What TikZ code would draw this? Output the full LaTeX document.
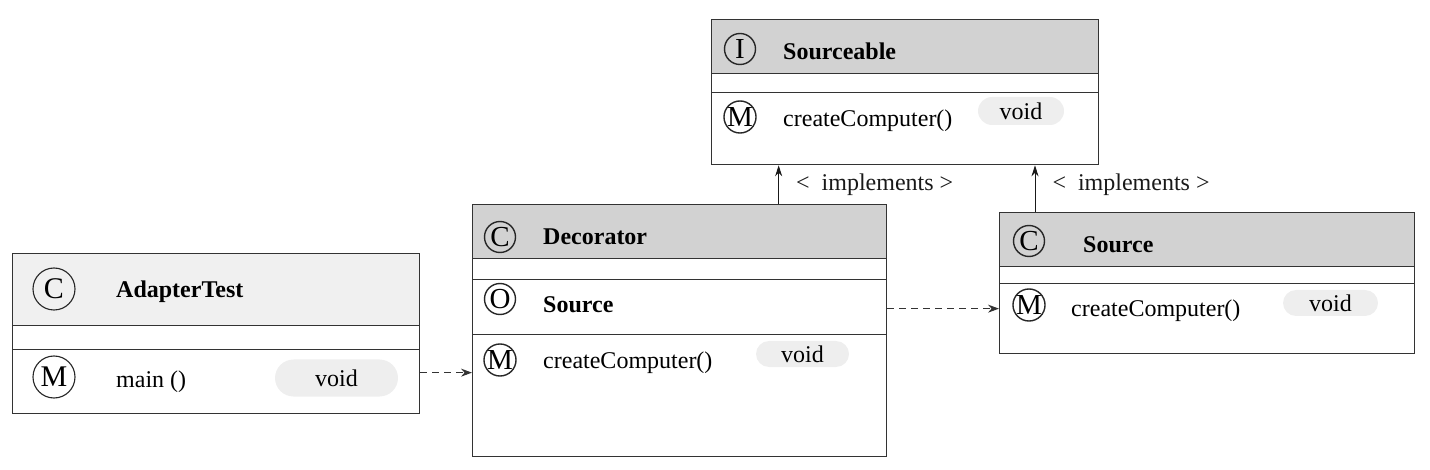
\documentclass[tikz,border=0pt]{standalone}
\usepackage{fontspec}
\setmainfont{Liberation Serif}
\usetikzlibrary{arrows.meta,shapes.misc}

\begin{document}
\begin{tikzpicture}[x=1pt, y=-1pt, font=\fontsize{24}{29}\selectfont,
        box/.style={draw=black!80, line width=1.3pt, rectangle, inner sep=0, anchor=north west},
        head/.style={box, fill=gray!35},
        ico/.style={draw=black!85, line width=1.4pt, circle, inner sep=0, minimum size=31pt, font=\fontsize{29}{29}\selectfont},
        bigico/.style={ico, line width=1.1pt, minimum size=42pt, font=\fontsize{30}{30}\selectfont},
        pill/.style={rounded rectangle, fill=gray!13, inner sep=0},
        txt/.style={anchor=base west, inner sep=0},
        dep/.style={-{Stealth[length=11pt,width=8pt]}, dash pattern=on 7pt off 5pt, line width=1pt, black!80},
        impl/.style={-{Stealth[length=11pt,width=7pt]}, line width=1pt, black!90}]
            \useasboundingbox (0,0) rectangle (1430,470);

            \node[head, fill=gray!12, minimum width=407pt, minimum height=72pt] (adapterHead) at (12,253) {};
            \node[box, minimum width=407pt, minimum height=24pt] (adapterGap) at (12,325) {};
            \node[box, minimum width=407pt, minimum height=64pt] (adapterMeth) at (12,349) {};
            \node[bigico] (adapterC) at (54,289) {C};
            \node[bigico] (adapterM) at (54,377) {M};
            \node[txt] (adapterName) at (116,298) {\bfseries AdapterTest};
            \node[txt] (adapterMain) at (116,387) {main ()};
            \node[pill, minimum width=123pt, minimum height=37pt] (adapterVoid) at (336.5,378) {void};

            \node[head, minimum width=414pt, minimum height=54pt] (decoratorHead) at (472,204) {};
            \node[box, minimum width=414pt, minimum height=21pt] (decoratorGap) at (472,258) {};
            \node[box, minimum width=414pt, minimum height=55pt] (decoratorAttr) at (472,279) {};
            \node[box, minimum width=414pt, minimum height=122pt] (decoratorMeth) at (472,334) {};
            \node[ico] (decoratorC) at (500,237) {C};
            \node[ico] (decoratorO) at (500,299) {O};
            \node[ico] (decoratorM) at (500,360) {M};
            \node[txt] (decoratorName) at (543,245) {\bfseries Decorator};
            \node[txt] (decoratorSrc) at (543,313) {\bfseries Source};
            \node[txt] (decoratorCreate) at (543,368) {createComputer()};
            \node[pill, minimum width=93pt, minimum height=26pt] (decoratorVoid) at (802.5,354) {void};

            \node[head, minimum width=387pt, minimum height=54pt] (sourceableHead) at (711,19) {};
            \node[box, minimum width=387pt, minimum height=19pt] (sourceableGap) at (711,73) {};
            \node[box, minimum width=387pt, minimum height=72pt] (sourceableMeth) at (711,92) {};
            \node[ico] (sourceableI) at (740,49) {I};
            \node[ico] (sourceableM) at (740,117) {M};
            \node[txt] (sourceableName) at (783,60) {\bfseries Sourceable};
            \node[txt] (sourceableCreate) at (783,127) {createComputer()};
            \node[pill, minimum width=86pt, minimum height=28pt] (sourceableVoid) at (1021,111) {void};

            \node[head, minimum width=415pt, minimum height=54pt] (sourceHead) at (999,212) {};
            \node[box, minimum width=415pt, minimum height=17pt] (sourceGap) at (999,266) {};
            \node[box, minimum width=415pt, minimum height=70pt] (sourceMeth) at (999,283) {};
            \node[ico] (sourceC) at (1029,241) {C};
            \node[ico] (sourceM) at (1029,305) {M};
            \node[txt] (sourceName) at (1083,253) {\bfseries Source};
            \node[txt] (sourceCreate) at (1071,317) {createComputer()};
            \node[pill, minimum width=95pt, minimum height=26pt] (sourceVoid) at (1330.5,303) {void};

            \draw[dep] ([yshift=9pt]adapterMeth.east) -- ([yshift=9pt]adapterMeth.east -| decoratorMeth.west);
            \draw[dep] ([yshift=-1.5pt]decoratorAttr.east) -- ([yshift=-1.5pt]decoratorAttr.east -| sourceMeth.west);
            \draw[impl] ([xshift=99pt]decoratorHead.north) -- ([xshift=99pt]decoratorHead.north |- sourceableMeth.south)
                node[midway, right=17pt, inner sep=0] (implA) {<\ \ implements >};
            \draw[impl] ([xshift=36pt]sourceHead.north west) -- ([xshift=36pt]sourceHead.north west |- sourceableMeth.south)
                node[pos=0.58, right=17pt, inner sep=0] (implB) {<\ \ implements >};
        \end{tikzpicture}
\end{document}
